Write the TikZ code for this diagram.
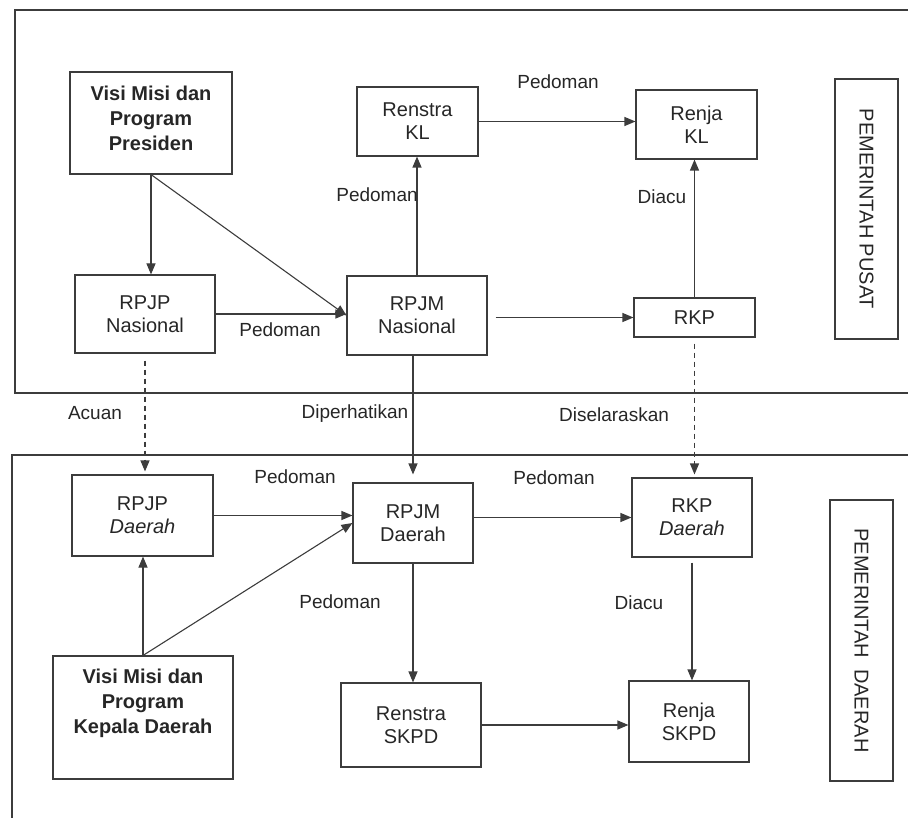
\documentclass[tikz,border=0pt]{standalone}
\usepackage{fontspec}
\setmainfont{Liberation Sans}
\usetikzlibrary{arrows.meta}
\definecolor{ink}{HTML}{3C3C3C}
\definecolor{txt}{HTML}{262626}
\tikzstyle{every node}=[text=txt]
\tikzstyle{kotak}=[draw=ink, line width=1.1pt, inner sep=0pt, align=center, font=\fontsize{20}{23}\selectfont]
\tikzstyle{tebal}=[kotak, font=\fontsize{20}{25}\selectfont\bfseries]
\tikzstyle{ket}=[inner sep=0pt, font=\fontsize{19}{22}\selectfont]
\tikzstyle{panah}=[draw=ink, line width=1.1pt, -{Triangle[length=11pt,width=9pt]}]
\tikzstyle{putus}=[panah, dash pattern=on 5pt off 4pt]

\begin{document}
\begin{tikzpicture}[x=1pt, y=-1pt]
 \useasboundingbox (0,0) rectangle (908,818);
 % bingkai pusat dan daerah
 \draw[ink, line width=1.1pt] (908,10) -- (15,10) -- (15,393) -- (908,393);
 \draw[ink, line width=1.1pt] (908,455) -- (12,455) -- (12,818);
 % pemerintah pusat
 \node[tebal, minimum width=162pt, minimum height=102pt] (visiP) at (151,123) {Visi Misi dan\\Program\\Presiden\\[-24pt]\strut};
 \node[kotak, minimum width=121pt, minimum height=69pt] (renstraKL) at (417.5,121.5) {Renstra\\KL};
 \node[kotak, minimum width=121pt, minimum height=69pt] (renjaKL) at (696.5,124.5) {Renja\\KL};
 \node[kotak, minimum width=140pt, minimum height=78pt] (rpjpN) at (145,314) {RPJP\\Nasional};
 \node[kotak, minimum width=140pt, minimum height=79pt] (rpjmN) at (417,315.5) {RPJM\\Nasional};
 \node[kotak, minimum width=121pt, minimum height=39pt] (rkp) at (694.5,317.5) {RKP};
 \node[kotak, rotate=-90, minimum width=260pt, minimum height=63pt] (pusat) at (866.5,209) {PEMERINTAH PUSAT};
 % pemerintah daerah
 \node[kotak, minimum width=141pt, minimum height=81pt] (rpjpD) at (142.5,515.5) {RPJP\\\textit{Daerah}};
 \node[kotak, minimum width=120pt, minimum height=80pt] (rpjmD) at (413,523) {RPJM\\Daerah};
 \node[kotak, minimum width=120pt, minimum height=79pt] (rkpD) at (692,517.5) {RKP\\\textit{Daerah}};
 \node[tebal, minimum width=180pt, minimum height=123pt] (visiK) at (143,717.5) {Visi Misi dan\\Program\\Kepala Daerah\\ \strut};
 \node[kotak, minimum width=140pt, minimum height=84pt] (renstraS) at (411,725) {Renstra\\SKPD};
 \node[kotak, minimum width=120pt, minimum height=81pt] (renjaS) at (689,721.5) {Renja\\SKPD};
 \node[kotak, rotate=-90, minimum width=281pt, minimum height=63pt] (daerah) at (861.5,640.5) {PEMERINTAH\ \ DAERAH};
 % panah pusat
 \draw[panah] (visiP.south) -- (rpjpN.north -| visiP.south);
 \draw[panah] (visiP.south) -- (rpjmN.west);
 \draw[panah] (rpjpN.east) -- (rpjpN.east -| rpjmN.west);
 \draw[panah] (rpjmN.north) -- (rpjmN.north |- renstraKL.south);
 \draw[panah] (renstraKL.east) -- (renstraKL.east -| renjaKL.west);
 \draw[panah, shorten <=8pt] (rpjmN.east |- rkp.west) -- (rkp.west);
 \draw[panah] (rkp.north) -- (rkp.north |- renjaKL.south);
 % panah antar pemerintahan
 \draw[putus, shorten <=7pt, shorten >=3pt] (rpjpN.south) -- (rpjpN.south |- rpjpD.north);
 \draw[panah, shorten >=8pt] (rpjmN.south -| rpjmD.north) -- (rpjmD.north);
 \draw[putus, shorten <=6pt, shorten >=3pt] (rkp.south) -- (rkp.south |- rkpD.north);
 % panah daerah
 \draw[panah] (rpjpD.east) -- (rpjpD.east -| rpjmD.west);
 \draw[panah] (visiK.north) -- (rpjpD.south -| visiK.north);
 \draw[panah] (visiK.north) -- (rpjmD.west);
 \draw[panah] (rkpD.west -| rpjmD.east) -- (rkpD.west);
 \draw[panah] (rpjmD.south) -- (rpjmD.south |- renstraS.north);
 \draw[panah, shorten <=5pt] (rkpD.south) -- (rkpD.south |- renjaS.north);
 \draw[panah] (renstraS.east) -- (renstraS.east -| renjaS.west);
 % keterangan
 \node[ket] (k1) at (558,82) {Pedoman};
 \node[ket] (k2) at (377,195) {Pedoman};
 \node[ket] (k3) at (280,330) {Pedoman};
 \node[ket] (k4) at (662,197) {Diacu};
 \node[ket] (k5) at (95,413) {Acuan};
 \node[ket] (k6) at (355,414) {Diperhatikan};
 \node[ket] (k7) at (614,415) {Diselaraskan};
 \node[ket] (k8) at (295,477) {Pedoman};
 \node[ket] (k9) at (554,478) {Pedoman};
 \node[ket] (k10) at (340,602) {Pedoman};
 \node[ket] (k11) at (639,603) {Diacu};
\end{tikzpicture}
\end{document}
